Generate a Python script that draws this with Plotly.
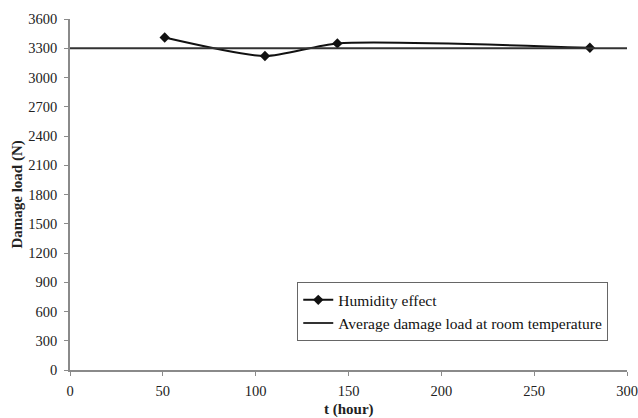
import plotly.graph_objects as go

# Exposure time (hours) and measured damage load (N)
t_hours = [51, 105, 144, 280]
damage_load = [3410, 3220, 3350, 3305]

# Average damage load at room temperature (N)
avg_t = [0, 300]
avg_load = [3300, 3300]

y_ticks = list(range(0, 3601, 300))
x_ticks = [0, 50, 100, 150, 200, 250, 300]

font_family = "Liberation Serif, Times New Roman, serif"
axis_grey = "#8a8a8a"
text_col = "#222222"

fig = go.Figure()

fig.add_trace(go.Scatter(
    x=t_hours, y=damage_load,
    mode="lines+markers",
    name="Humidity effect",
    line=dict(color="#111111", width=2, shape="spline", smoothing=0.65),
    marker=dict(symbol="diamond", size=8, color="#111111"),
))

fig.add_trace(go.Scatter(
    x=avg_t, y=avg_load,
    mode="lines",
    name="Average damage load at room temperature",
    line=dict(color="#333333", width=2),
))

fig.update_layout(
    width=638, height=418,
    margin=dict(l=70, r=11, t=19, b=48),
    paper_bgcolor="white",
    plot_bgcolor="white",
    font=dict(family=font_family, size=14, color=text_col),
    showlegend=True,
    legend=dict(
        x=0.408, y=0.25, xanchor="left", yanchor="top",
        bordercolor="#666666", borderwidth=1,
        bgcolor="white",
        font=dict(family=font_family, size=15.5, color="#111111"),
        tracegroupgap=0,
        itemwidth=30,
    ),
)

# Axis titles placed as paper-anchored annotations
fig.add_annotation(
    text="<b>t (hour)</b>", xref="paper", yref="paper",
    x=0.5, y=-0.113, xanchor="center", yanchor="middle",
    showarrow=False, font=dict(family=font_family, size=15, color=text_col),
)
fig.add_annotation(
    text="<b>Damage load (N)</b>", xref="paper", yref="paper",
    x=-0.095, y=0.5, xanchor="center", yanchor="middle", textangle=-90,
    showarrow=False, font=dict(family=font_family, size=15, color=text_col),
)

fig.update_xaxes(
    range=[0, 300],
    tickvals=x_ticks,
    automargin=False,
    showgrid=False, zeroline=False,
    showline=True, linecolor=axis_grey, linewidth=1.5,
    ticks="outside", ticklen=4, tickcolor=axis_grey,
    ticklabelstandoff=3,
    tickfont=dict(family=font_family, size=14.5, color=text_col),
)

fig.update_yaxes(
    range=[0, 3600],
    tickvals=y_ticks,
    automargin=False,
    showgrid=False, zeroline=False,
    showline=True, linecolor=axis_grey, linewidth=1.5,
    ticks="outside", ticklen=4, tickcolor=axis_grey,
    ticklabelstandoff=4,
    tickfont=dict(family=font_family, size=14.5, color=text_col),
)

fig.write_html("out.html")
